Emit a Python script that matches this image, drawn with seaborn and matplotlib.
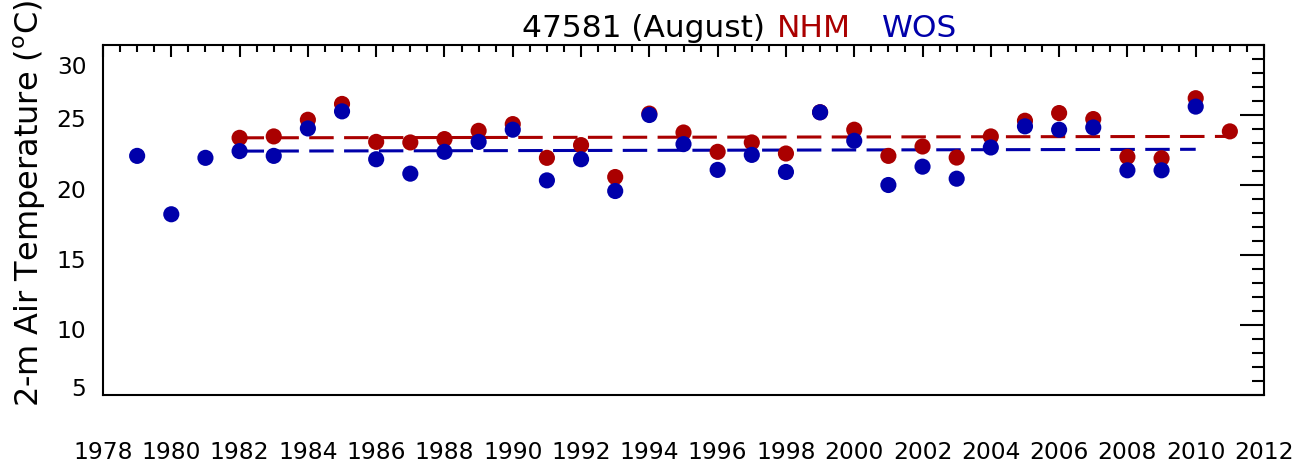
import numpy as np
import pandas as pd
import matplotlib
matplotlib.use("Agg")
import matplotlib.pyplot as plt
import seaborn as sns
from matplotlib.ticker import MultipleLocator, FixedLocator, NullLocator

# ---------------- data ----------------
station = "47581"
month = "August"
series_names = ["NHM", "WOS"]

years_nhm = list(range(1982, 2012))
nhm = [23.37, 23.47, 24.66, 25.79, 23.08, 23.04, 23.28, 23.87, 24.35, 21.94,
       22.85, 20.57, 25.10, 23.75, 22.37, 23.04, 22.25, 25.20, 23.95, 22.08,
       22.75, 21.96, 23.47, 24.59, 25.14, 24.71, 22.01, 21.91, 26.20, 23.83]

years_wos = list(range(1979, 2011))
wos = [22.08, 17.91, 21.94, 22.42, 22.08, 24.04, 25.26, 21.84, 20.81, 22.37,
       23.08, 23.95, 20.33, 21.84, 19.57, 25.00, 22.92, 21.08, 22.15, 20.93,
       25.19, 23.16, 20.00, 21.31, 20.45, 22.68, 24.19, 23.95, 24.11, 21.05,
       21.05, 25.60]

trend_years_nhm = [1982, 2011]
trend_nhm = [23.37, 23.47]
trend_years_wos = [1982, 2010]
trend_wos = [22.42, 22.55]

xtick_years = list(range(1978, 2013, 2))
ytick_labels = ["5", "10", "15", "20", "25", "30"]

# ---------------- style ----------------
sns.set_style("white")
plt.rcParams["font.family"] = ["DejaVu Sans"]
plt.rcParams["mathtext.fontset"] = "dejavusans"

RED = "#AA0000"
BLUE = "#0000AA"

W, H = 1296, 462
fig = plt.figure(figsize=(W / 100, H / 100), dpi=100)
L, R, T, B = 103, 1264, 45, 395
ax = fig.add_axes([L / W, 1 - B / H, (R - L) / W, (B - T) / H])

df_n = pd.DataFrame({"year": years_nhm, "temp": nhm})
df_w = pd.DataFrame({"year": years_wos, "temp": wos})
df_tn = pd.DataFrame({"year": trend_years_nhm, "temp": trend_nhm})
df_tw = pd.DataFrame({"year": trend_years_wos, "temp": trend_wos})

dash = (0, (8, 3.4))
sns.lineplot(data=df_tn, x="year", y="temp", color=RED, linewidth=2.2,
             linestyle=dash, ax=ax, zorder=2)
sns.lineplot(data=df_tw, x="year", y="temp", color=BLUE, linewidth=2.2,
             linestyle=dash, ax=ax, zorder=2)
sns.scatterplot(data=df_n, x="year", y="temp", color=RED, s=135,
                edgecolor="none", linewidth=0, ax=ax, zorder=3)
sns.scatterplot(data=df_w, x="year", y="temp", color=BLUE, s=135,
                edgecolor="none", linewidth=0, ax=ax, zorder=4)

ax.set_xlim(1978, 2012)
ax.set_ylim(5, 30)
ax.set_xlabel("")
ax.set_ylabel("")

ax.xaxis.set_major_locator(FixedLocator(xtick_years))
ax.set_xticklabels([str(y) for y in xtick_years])
ax.xaxis.set_minor_locator(MultipleLocator(0.5))
ax.yaxis.set_major_locator(MultipleLocator(5))
ax.yaxis.set_minor_locator(MultipleLocator(1))

ax.tick_params(axis="both", which="both", direction="in", top=True,
               right=True, color="black", width=1.5)
ax.tick_params(axis="x", which="major", length=8.6, labelsize=16.8, pad=33,
               labelcolor="black")
ax.tick_params(axis="x", which="minor", length=5)
ax.tick_params(axis="y", which="major", length=17, labelleft=False)
ax.tick_params(axis="y", which="minor", length=8.6)

for s in ax.spines.values():
    s.set_visible(True)
    s.set_color("black")
    s.set_linewidth(1.5)

sec = ax.secondary_yaxis("left")
sec.yaxis.set_major_locator(FixedLocator([5.55, 9.7, 14.7, 19.75, 24.8, 28.6]))
sec.yaxis.set_minor_locator(NullLocator())
sec.set_yticklabels(ytick_labels)
sec.tick_params(length=0, labelsize=16.8, pad=12, labelcolor="black")
sec.spines["left"].set_visible(False)

fig.text(30 / W, 1 - 203 / H, "2-m Air Temperature ($^{\\mathrm{o}}$C)",
         rotation=90, ha="center", va="center", fontsize=23, color="black")

fig.text(522 / W, 1 - 37 / H, f"{station} ({month})", fontsize=22.5,
         ha="left", va="baseline", color="black")
fig.text(777 / W, 1 - 37 / H, series_names[0], fontsize=22.5,
         ha="left", va="baseline", color=RED)
fig.text(882 / W, 1 - 37 / H, series_names[1], fontsize=22.5,
         ha="left", va="baseline", color=BLUE)

fig.savefig("out.png", dpi=100)
